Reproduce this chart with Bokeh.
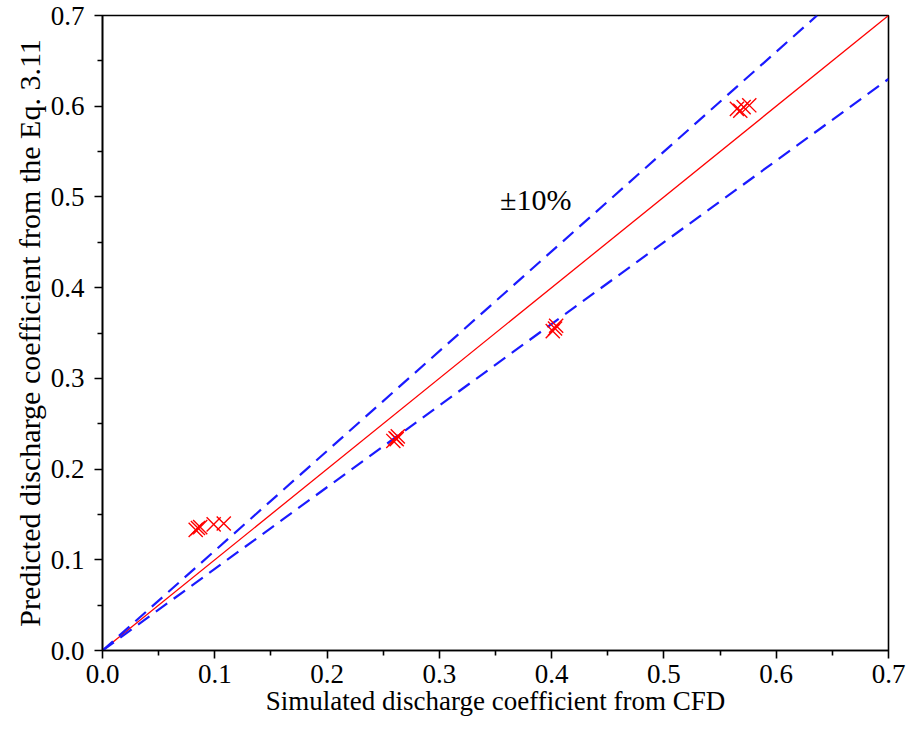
from bokeh.plotting import figure
from bokeh.models import FixedTicker, NumeralTickFormatter, Label, Range1d
from bokeh.embed import file_html
from bokeh.resources import INLINE

# Data
x_cfd = [0.083, 0.085, 0.087, 0.099, 0.108,
         0.259, 0.261, 0.263, 0.262,
         0.401, 0.403, 0.404,
         0.565, 0.568, 0.571, 0.576]
y_pred = [0.133, 0.135, 0.136, 0.139, 0.140,
          0.231, 0.234, 0.236, 0.233,
          0.352, 0.355, 0.358,
          0.597, 0.595, 0.599, 0.601]

major_ticks = [0.0, 0.1, 0.2, 0.3, 0.4, 0.5, 0.6, 0.7]
minor_ticks = [0.05, 0.15, 0.25, 0.35, 0.45, 0.55, 0.65]
ratios = [1.0, 1.1, 0.9]
axis_max = 0.7
x_label = "Simulated discharge coefficient from CFD"
y_label = "Predicted discharge coefficient from the Eq. 3.11"
band_text = "\u00b110%"

FONT = "Liberation Serif"

p = figure(width=908, height=731, output_backend="svg", toolbar_location=None,
           x_range=Range1d(0, axis_max), y_range=Range1d(0, axis_max),
           min_border_left=102, min_border_right=20, min_border_top=15, min_border_bottom=81)
p.background_fill_color = "white"
p.border_fill_color = "white"
p.outline_line_color = "black"
p.outline_line_width = 1.6
p.grid.visible = False

for ax in (p.xaxis, p.yaxis):
    ax.ticker = FixedTicker(ticks=major_ticks, minor_ticks=minor_ticks)
    ax.formatter = NumeralTickFormatter(format="0.0")
    ax.major_label_text_font = FONT
    ax.major_label_text_font_size = "27px"
    ax.major_label_text_color = "black"
    ax.axis_label_text_font = FONT
    ax.axis_label_text_font_style = "normal"
    ax.axis_label_text_color = "black"
    ax.axis_line_width = 1.6
    ax.major_tick_line_width = 1.6
    ax.minor_tick_line_width = 1.6
    ax.major_tick_out = 8
    ax.major_tick_in = 0
    ax.minor_tick_out = 5
    ax.minor_tick_in = 0

p.xaxis.axis_label = x_label
p.yaxis.axis_label = y_label
p.xaxis.axis_label_text_font_size = "27px"
p.yaxis.axis_label_text_font_size = "30px"
p.xaxis.axis_label_standoff = 0
p.yaxis.axis_label_standoff = 2
p.xaxis.major_label_standoff = 6
p.yaxis.major_label_standoff = 10

# reference lines
r = ratios[0]
p.line([0, axis_max / r], [0, axis_max], line_color="red", line_width=1.3)
for r in ratios[1:]:
    xe = min(axis_max, axis_max / r)
    p.line([0, xe], [0, xe * r], line_color="#1a1aff", line_width=2.2, line_dash="14 8")

p.scatter(x_cfd, y_pred, marker="x", size=20, line_color="red", line_width=1.4)

p.add_layout(Label(x=0.354, y=0.479, text=band_text, text_font=FONT,
                   text_font_size="30px", text_color="black"))

open("out.html", "w").write(file_html(p, INLINE))
